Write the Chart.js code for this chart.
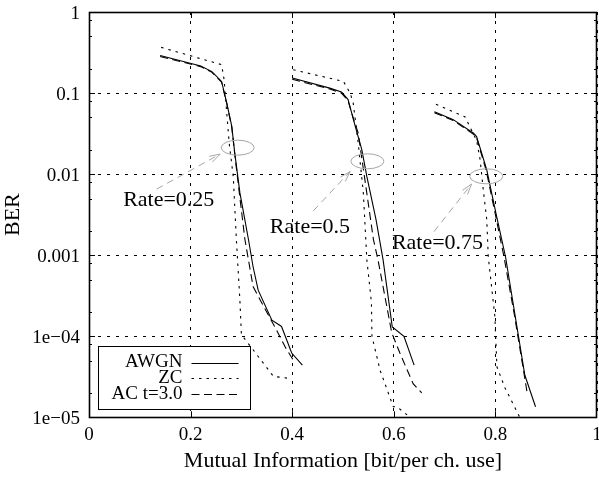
<!DOCTYPE html>
<html>
<head>
<meta charset="utf-8">
<title>BER vs mutual information</title>
<script src="https://cdn.jsdelivr.net/npm/chart.js@4.4.1/dist/chart.umd.min.js"></script>
<style>
    html, body { margin: 0; padding: 0; background: #fff; }
    canvas { display: block; }
</style>
</head>
<body>
<canvas id="berChart" width="599" height="480"></canvas>
<script>
// Curve data: mutual information (x) and BER (y), one pair per code rate
const awgnMI25 = [0.140, 0.220, 0.242, 0.261, 0.271, 0.281, 0.287, 0.297, 0.314, 0.323, 0.333, 0.360, 0.379, 0.399, 0.420];
const awgnBER25 = [0.291, 0.216, 0.184, 0.139, 0.076, 0.039, 0.018, 0.0059, 0.00155, 0.00072, 0.00037, 0.000158, 0.000132, 0.000062, 0.000044];
const awgnMI50 = [0.400, 0.474, 0.497, 0.510, 0.524, 0.537, 0.547, 0.565, 0.579, 0.597, 0.620, 0.640];
const awgnBER50 = [0.153, 0.115, 0.103, 0.083, 0.039, 0.020, 0.0093, 0.00275, 0.00087, 0.000130, 0.000100, 0.000044];
const awgnMI75 = [0.680, 0.717, 0.757, 0.763, 0.783, 0.801, 0.820, 0.858, 0.879];
const awgnBER75 = [0.059, 0.047, 0.032, 0.029, 0.0113, 0.0033, 0.00095, 0.000033, 0.0000135];

const zcMI25 = [0.142, 0.261, 0.266, 0.268, 0.276, 0.284, 0.290, 0.297, 0.300, 0.363, 0.397];
const zcBER25 = [0.366, 0.224, 0.146, 0.100, 0.024, 0.0093, 0.0016, 0.00028, 0.000105, 0.000032, 0.000030];
const zcMI50 = [0.402, 0.501, 0.514, 0.520, 0.530, 0.540, 0.547, 0.556, 0.557, 0.573, 0.599, 0.606, 0.632];
const zcBER50 = [0.194, 0.139, 0.100, 0.076, 0.024, 0.0059, 0.00087, 0.00026, 0.000100, 0.000038, 0.0000135, 0.0000135, 0.0000100];
const zcMI75 = [0.683, 0.740, 0.763, 0.770, 0.776, 0.783, 0.786, 0.799, 0.803, 0.819, 0.848];
const zcBER75 = [0.073, 0.051, 0.026, 0.015, 0.0065, 0.00275, 0.00095, 0.000174, 0.000042, 0.000023, 0.000010];

const acMI25 = [0.140, 0.220, 0.242, 0.261, 0.271, 0.281, 0.287, 0.296, 0.307, 0.323, 0.337, 0.369, 0.386, 0.402];
const acBER25 = [0.282, 0.212, 0.180, 0.136, 0.075, 0.038, 0.0175, 0.0058, 0.00155, 0.00041, 0.00028, 0.00012, 0.000074, 0.000051];
const acMI50 = [0.400, 0.474, 0.497, 0.510, 0.522, 0.530, 0.560, 0.569, 0.596, 0.612, 0.638, 0.655];
const acBER50 = [0.148, 0.112, 0.100, 0.080, 0.045, 0.032, 0.00155, 0.00087, 0.00011, 0.000062, 0.000026, 0.000020];
const acMI75 = [0.680, 0.717, 0.757, 0.763, 0.782, 0.799, 0.817, 0.838, 0.862];
const acBER75 = [0.057, 0.046, 0.031, 0.028, 0.0110, 0.0034, 0.00095, 0.000174, 0.000021];

const seriesNames = ['AWGN', 'ZC', 'AC t=3.0'];
const xTickLabels = ['0', '0.2', '0.4', '0.6', '0.8', '1'];
const yTickValues = [1e-5, 1e-4, 1e-3, 1e-2, 1e-1, 1];
const yTickLabels = ['1e\u221205', '1e\u221204', '0.001', '0.01', '0.1', '1'];
const yMinorMantissas = [2, 5, 8];

// Rate annotations (anchors in data units)
const rateTexts = ['Rate=0.25', 'Rate=0.5', 'Rate=0.75'];
const rateTextMI = [0.157, 0.435, 0.686];
const rateTextBER = [0.00472, 0.00222, 0.00141];
const ringMI = [0.2927, 0.548, 0.782];
const ringBER = [0.0212, 0.0144, 0.0094];
const arrowFromMI = [0.133, 0.4415, 0.679];
const arrowFromBER = [0.00653, 0.00352, 0.00195];
const arrowToMI = [0.258, 0.514, 0.753];
const arrowToBER = [0.01766, 0.01076, 0.00753];

const SERIF = '"Liberation Serif", "Times New Roman", serif';

// join several curves into one dataset, with a gap between them
function joinCurves(curves) {
    const pts = [];
    curves.forEach((c, i) => {
        if (i > 0) pts.push({ x: c[0][0], y: null });
        c[0].forEach((x, j) => pts.push({ x: x, y: c[1][j] }));
    });
    return pts;
}

const styles = [
    { dash: [] },
    { dash: [2.5, 5] },
    { dash: [8, 4.5] }
];

const datasets = [
    joinCurves([[awgnMI25, awgnBER25], [awgnMI50, awgnBER50], [awgnMI75, awgnBER75]]),
    joinCurves([[zcMI25, zcBER25], [zcMI50, zcBER50], [zcMI75, zcBER75]]),
    joinCurves([[acMI25, acBER25], [acMI50, acBER50], [acMI75, acBER75]])
].map((pts, i) => ({
    label: seriesNames[i],
    data: pts,
    borderColor: '#000',
    borderWidth: 1.1,
    borderDash: styles[i].dash,
    pointRadius: 0,
    fill: false,
    spanGaps: false,
    tension: 0
}));

const whiteBackground = {
    id: 'whiteBackground',
    beforeDraw(chart) {
        const ctx = chart.ctx;
        ctx.save();
        ctx.fillStyle = '#fff';
        ctx.fillRect(0, 0, chart.width, chart.height);
        ctx.restore();
    }
};

// solid frame with inward ticks on all four sides
const frameTicks = {
    id: 'frameTicks',
    afterDatasetsDraw(chart) {
        const { ctx, chartArea: a, scales } = chart;
        ctx.save();
        ctx.strokeStyle = '#000';
        ctx.lineWidth = 1;
        ctx.setLineDash([]);
        ctx.beginPath();
        yTickValues.forEach(v => {
            const y = Math.round(scales.y.getPixelForValue(v)) + 0.5;
            ctx.moveTo(a.left, y); ctx.lineTo(a.left + 6, y);
            ctx.moveTo(a.right, y); ctx.lineTo(a.right - 6, y);
            if (v < 1) {
                yMinorMantissas.forEach(m => {
                    const ym = Math.round(scales.y.getPixelForValue(v * m)) + 0.5;
                    ctx.moveTo(a.left, ym); ctx.lineTo(a.left + 3, ym);
                    ctx.moveTo(a.right, ym); ctx.lineTo(a.right - 3, ym);
                });
            }
        });
        [0.2, 0.4, 0.6, 0.8].forEach(v => {
            const x = Math.round(scales.x.getPixelForValue(v)) + 0.5;
            ctx.moveTo(x, a.bottom); ctx.lineTo(x, a.bottom - 6);
            ctx.moveTo(x, a.top); ctx.lineTo(x, a.top + 6);
        });
        ctx.stroke();
        ctx.lineWidth = 1.6;
        ctx.strokeRect(Math.round(a.left) + 0.5, Math.round(a.top) + 0.5,
            Math.round(a.right - a.left) - 1, Math.round(a.bottom - a.top));
        ctx.restore();
    }
};

// grey rings, dashed arrows and the rate labels
const rateNotes = {
    id: 'rateNotes',
    afterDatasetsDraw(chart) {
        const { ctx, scales } = chart;
        const px = v => scales.x.getPixelForValue(v);
        const py = v => scales.y.getPixelForValue(v);
        ctx.save();
        ctx.strokeStyle = '#a6a6a6';
        ctx.lineWidth = 1;
        rateTexts.forEach((txt, i) => {
            ctx.setLineDash([]);
            ctx.beginPath();
            ctx.ellipse(px(ringMI[i]), py(ringBER[i]), 16.5, 7.5, 0, 0, Math.PI * 2);
            ctx.stroke();

            const x0 = px(arrowFromMI[i]), y0 = py(arrowFromBER[i]);
            const x1 = px(arrowToMI[i]), y1 = py(arrowToBER[i]);
            ctx.setLineDash([7, 5]);
            ctx.beginPath();
            ctx.moveTo(x0, y0); ctx.lineTo(x1, y1);
            ctx.stroke();
            const ang = Math.atan2(y1 - y0, x1 - x0);
            const head = 11, spread = 0.3;
            ctx.setLineDash([]);
            ctx.beginPath();
            ctx.moveTo(x1 - head * Math.cos(ang - spread), y1 - head * Math.sin(ang - spread));
            ctx.lineTo(x1, y1);
            ctx.lineTo(x1 - head * Math.cos(ang + spread), y1 - head * Math.sin(ang + spread));
            ctx.stroke();

            ctx.fillStyle = '#000';
            ctx.font = '22px ' + SERIF;
            ctx.textAlign = 'center';
            ctx.textBaseline = 'middle';
            ctx.fillText(txt, px(rateTextMI[i]), py(rateTextBER[i]));
        });
        ctx.restore();
    }
};

// boxed legend in the lower left corner, text right of the box edge
const boxLegend = {
    id: 'boxLegend',
    afterDraw(chart) {
        const { ctx, chartArea: a } = chart;
        const left = Math.round(a.left + 9) + 0.5;
        const top = Math.round(a.bottom - 71) + 0.5;
        const w = 152, h = 63;
        ctx.save();
        ctx.fillStyle = '#fff';
        ctx.fillRect(left, top, w, h);
        ctx.strokeStyle = '#000';
        ctx.lineWidth = 1;
        ctx.strokeRect(left, top, w, h);
        ctx.font = '19px ' + SERIF;
        ctx.textAlign = 'right';
        ctx.textBaseline = 'middle';
        chart.data.datasets.forEach((ds, i) => {
            const y = top + 16 + i * 15.8;
            ctx.fillStyle = '#000';
            ctx.fillText(ds.label, left + 84, y);
            ctx.setLineDash(ds.borderDash);
            ctx.lineWidth = ds.borderWidth;
            ctx.beginPath();
            ctx.moveTo(left + 93, Math.round(y) + 0.5);
            ctx.lineTo(left + 140, Math.round(y) + 0.5);
            ctx.stroke();
        });
        ctx.restore();
    }
};

new Chart(document.getElementById('berChart'), {
    type: 'line',
    data: { datasets: datasets },
    options: {
        responsive: false,
        animation: false,
        devicePixelRatio: 1,
        layout: { padding: { top: 12, right: 2, bottom: 0, left: 0 } },
        plugins: {
            legend: { display: false },
            tooltip: { enabled: false }
        },
        scales: {
            x: {
                type: 'linear',
                min: 0,
                max: 1,
                ticks: {
                    stepSize: 0.2,
                    padding: 6,
                    maxRotation: 0,
                    color: '#000',
                    font: { family: SERIF, size: 19 },
                    callback: (v, i) => xTickLabels[i]
                },
                grid: { color: '#000', lineWidth: 1, drawTicks: false },
                border: { display: false, dash: [3, 6] },
                title: {
                    display: true,
                    text: 'Mutual Information [bit/per ch. use]',
                    color: '#000',
                    font: { family: SERIF, size: 22 },
                    padding: { top: 0, bottom: 6 }
                },
                afterFit(scale) {
                    scale.height = 62.7;
                    scale.paddingLeft = 0;
                    scale.paddingRight = 0;
                }
            },
            y: {
                type: 'logarithmic',
                min: 1e-5,
                max: 1,
                afterBuildTicks(scale) {
                    scale.ticks = yTickValues.map(v => ({ value: v }));
                },
                ticks: {
                    padding: 9,
                    labelOffset: 2,
                    color: '#000',
                    font: { family: SERIF, size: 19 },
                    callback: (v, i) => yTickLabels[i]
                },
                grid: { color: '#000', lineWidth: 1, drawTicks: false },
                border: { display: false, dash: [3, 6] },
                title: {
                    display: true,
                    text: 'BER',
                    color: '#000',
                    font: { family: SERIF, size: 22 },
                    padding: { top: 0, bottom: 0 }
                },
                afterFit(scale) {
                    scale.width = 89;
                    scale.paddingTop = 0;
                    scale.paddingBottom = 0;
                }
            }
        }
    },
    plugins: [whiteBackground, frameTicks, rateNotes, boxLegend]
});
</script>
</body>
</html>
